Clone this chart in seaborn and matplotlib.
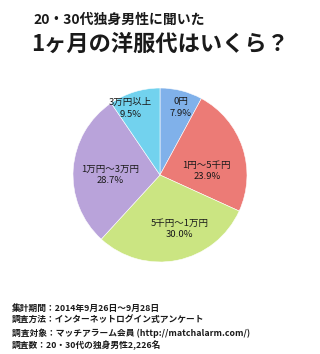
import numpy as np
import matplotlib
matplotlib.use("Agg")
import matplotlib.pyplot as plt
import seaborn as sns

# ---- data ----
categories = ["0円", "1円～5千円", "5千円～1万円", "1万円～3万円", "3万円以上"]
shares = [7.9, 23.9, 30.0, 28.7, 9.5]
title_sub = "20・30代独身男性に聞いた"
title_main = "1ヶ月の洋服代はいくら？"
footnotes = [
    "集計期間：2014年9月26日～9月28日",
    "調査方法：インターネットログイン式アンケート",
    "調査対象：マッチアラーム会員 (http://matchalarm.com/)",
    "調査数：20・30代の独身男性2,226名",
]

# ---- style ----
sns.set_theme(style="white")
plt.rcParams["font.family"] = ["Noto Sans CJK JP", "DejaVu Sans"]
palette = sns.color_palette(["#80b1ea", "#ec7b76", "#cbe582", "#b9a3da", "#72d2ee"])
label_r = [0.81, 0.54, 0.66, 0.575, 0.84]
label_shift = [-3, -13.6, 8.8, 4.1, 7]
TXT = "#1a1a1a"

W, H = 320, 354
fig = plt.figure(figsize=(W / 100, H / 100), dpi=100)
fig.patch.set_facecolor("white")

cx, cy, r = 160, 175, 87
ax = fig.add_axes([(cx - r) / W, (H - cy - r) / H, 2 * r / W, 2 * r / H])
wedges, _ = ax.pie(shares, colors=palette, startangle=90, counterclock=False,
                   radius=1, wedgeprops=dict(edgecolor="white", linewidth=0.4))
ax.set_xlim(-1, 1)
ax.set_ylim(-1, 1)
ax.set_aspect("equal")
ax.axis("off")

total = sum(shares)
cum = 0.0
for i, (cat, v) in enumerate(zip(categories, shares)):
    mid = 90 - 360 * (cum + v / 2) / total + label_shift[i]
    cum += v
    a = np.deg2rad(mid)
    ax.text(label_r[i] * np.cos(a), label_r[i] * np.sin(a), f"{cat}\n{v:.1f}%",
            ha="center", va="center", multialignment="center",
            fontsize=6.8, color=TXT, linespacing=1.35)

fig.text(33 / W, 1 - 20 / H, title_sub, ha="left", va="center",
         fontsize=10, fontweight="bold", color=TXT)
fig.text(31 / W, 1 - 44 / H, title_main, ha="left", va="center",
         fontsize=16, fontweight="bold", color=TXT)

for k, line in enumerate(footnotes):
    fig.text(12 / W, 1 - (308 + 12.4 * k) / H, line, ha="left", va="center",
             fontsize=6.3, fontweight="bold", color=TXT)

fig.savefig("out.png", dpi=100, facecolor="white")
